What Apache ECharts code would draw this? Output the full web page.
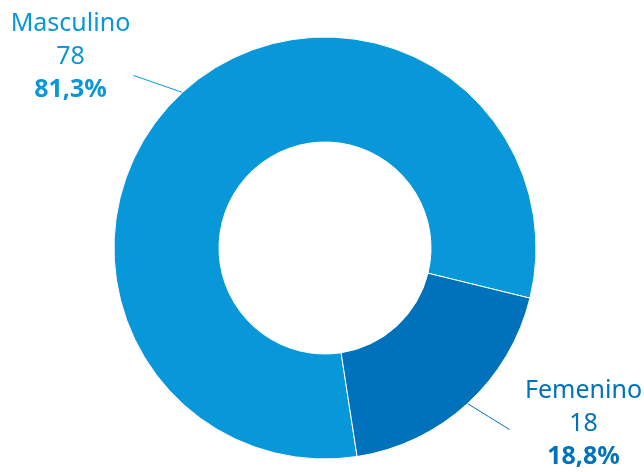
<!DOCTYPE html>
<html>
<head>
<meta charset="utf-8">
<script src="https://cdn.jsdelivr.net/npm/echarts@6/dist/echarts.min.js"></script>
<style>
html,body{margin:0;padding:0;background:#fff;}
#chart{width:644px;height:472px;}
</style>
</head>
<body>
<div id="chart"></div>
<script>
var categories = ['Masculino', 'Femenino'];
var values = [78, 18];
var colors = ['#0897d8', '#0072bb'];

// label box centre and label-line end, relative to the line's anchor on the ring
var labelOffsets = [[-112, -36], [116, 20]];
var lineEndOffsets = [[-49, -17], [42, 26]];

var chart = echarts.init(document.getElementById('chart'), null, {renderer: 'canvas'});

function fmtPct(v) {
  return v.toFixed(1).replace('.', ',') + '%';
}
var total = values.reduce(function (a, b) { return a + b; }, 0);

var data = categories.map(function (c, i) {
  return {
    name: c,
    value: values[i],
    itemStyle: {color: colors[i]},
    label: {color: colors[i]}
  };
});

chart.setOption({
  animation: false,
  series: [{
    type: 'pie',
    center: [325, 248],
    radius: [106, 211],
    startAngle: -81.25,
    clockwise: true,
    itemStyle: {borderColor: '#ffffff', borderWidth: 1},
    label: {
      show: true,
      position: 'outside',
      fontFamily: 'Noto Sans',
      formatter: function (p) {
        return '{n|' + p.name + '}\n{v|' + p.value + '}\n{p|' + fmtPct(p.value / total * 100) + '}';
      },
      rich: {
        n: {fontSize: 25, fontFamily: 'Noto Sans', lineHeight: 33, align: 'center'},
        v: {fontSize: 25, fontFamily: 'Noto Sans', lineHeight: 33, align: 'center'},
        p: {fontSize: 25, fontFamily: 'Noto Sans', fontWeight: 'bold', lineHeight: 33, align: 'center'}
      }
    },
    labelLine: {show: true, length: 20, length2: 0, lineStyle: {width: 1}},
    labelLayout: function (p) {
      var a = p.labelLinePoints[0];
      var lo = labelOffsets[p.dataIndex];
      var le = lineEndOffsets[p.dataIndex];
      return {
        x: a[0] + lo[0],
        y: a[1] + lo[1],
        align: 'center',
        verticalAlign: 'middle',
        labelLinePoints: [[a[0], a[1]], [a[0] + le[0] / 2, a[1] + le[1] / 2], [a[0] + le[0], a[1] + le[1]]]
      };
    },
    data: data
  }]
});
</script>
</body>
</html>
